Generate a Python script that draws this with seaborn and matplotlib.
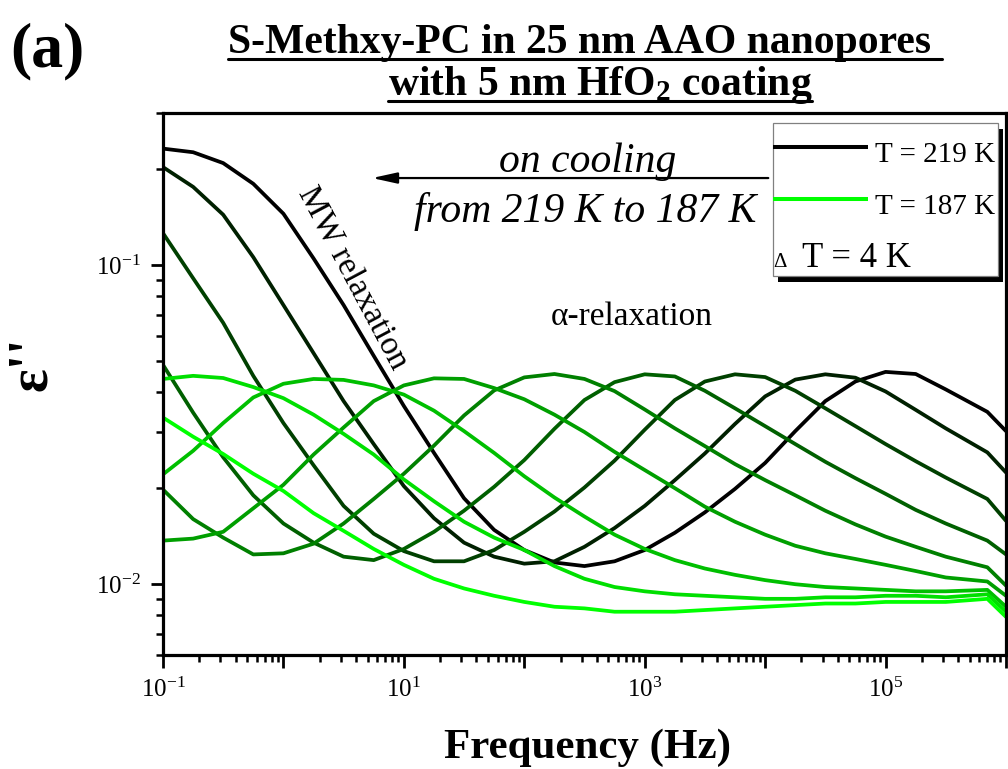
import numpy as np
import pandas as pd
import matplotlib
matplotlib.use("Agg")
import matplotlib.pyplot as plt
import seaborn as sns
from matplotlib.patches import Rectangle
from matplotlib.lines import Line2D
from matplotlib.ticker import LogLocator, FuncFormatter, NullFormatter

# Frequency grid of the dielectric loss spectra (Hz)
freq = [0.1, 0.178, 0.316, 0.562,
        1.0, 1.78, 3.16, 5.62,
        10.0, 17.8, 31.6, 56.2,
        100.0, 178.0, 316.0, 562.0,
        1.0e3, 1.78e3, 3.16e3, 5.62e3,
        1.0e4, 1.78e4, 3.16e4, 5.62e4,
        1.0e5, 1.78e5, 3.16e5, 7.0e5, 1.0e6]

temps = [219, 215, 211, 207, 203, 199, 195, 191, 187]

# Dielectric loss eps'' for each temperature (K)
eps_219 = [0.232, 0.226, 0.209, 0.180, 0.145, 0.105, 0.075, 0.052, 0.0362, 0.0258,
           0.0186, 0.0148, 0.0128, 0.0117, 0.0114, 0.0118, 0.0128, 0.0145, 0.0168, 0.0199,
           0.0240, 0.0302, 0.0375, 0.0432, 0.0463, 0.0456, 0.0408, 0.0347, 0.0302]
eps_215 = [0.203, 0.176, 0.144, 0.106, 0.075, 0.053, 0.0375, 0.0275, 0.0203, 0.0161,
           0.0135, 0.0122, 0.0116, 0.0118, 0.0131, 0.0150, 0.0176, 0.0212, 0.0257, 0.0318,
           0.0388, 0.0438, 0.0455, 0.0444, 0.0402, 0.0352, 0.0308, 0.0259, 0.0224]
eps_211 = [0.126, 0.091, 0.066, 0.045, 0.032, 0.0236, 0.0176, 0.0144, 0.0127, 0.0118,
           0.0118, 0.0128, 0.0146, 0.0169, 0.0201, 0.0244, 0.0305, 0.0378, 0.0432, 0.0455,
           0.0446, 0.0404, 0.0356, 0.0313, 0.0275, 0.0243, 0.0216, 0.0185, 0.0158]
eps_207 = [0.0487, 0.0345, 0.0250, 0.0190, 0.0155, 0.0135, 0.0122, 0.0119, 0.0129, 0.0146,
           0.0170, 0.0202, 0.0245, 0.0307, 0.0378, 0.0430, 0.0455, 0.0448, 0.0404, 0.0356,
           0.0313, 0.0275, 0.0242, 0.0215, 0.0192, 0.0171, 0.0155, 0.0137, 0.0124]
eps_203 = [0.0198, 0.0160, 0.0140, 0.0124, 0.0125, 0.0134, 0.0155, 0.0185, 0.0222, 0.0272,
           0.0338, 0.0405, 0.0445, 0.0456, 0.0440, 0.0403, 0.0353, 0.0308, 0.0271, 0.0238,
           0.0212, 0.0190, 0.0170, 0.0154, 0.0141, 0.0131, 0.0122, 0.0113, 0.0099]
eps_199 = [0.0137, 0.0139, 0.0146, 0.0173, 0.0205, 0.0255, 0.0310, 0.0375, 0.0420, 0.0442,
           0.0440, 0.0412, 0.0380, 0.0340, 0.0300, 0.0260, 0.0228, 0.0200, 0.0175, 0.0157,
           0.0143, 0.0132, 0.0125, 0.0120, 0.0115, 0.0110, 0.0105, 0.0102, 0.0092]
eps_195 = [0.0221, 0.0262, 0.0320, 0.0385, 0.0425, 0.0440, 0.0437, 0.0420, 0.0393, 0.0350,
           0.0302, 0.0258, 0.0218, 0.0187, 0.0163, 0.0143, 0.0129, 0.0119, 0.0112, 0.0107,
           0.0103, 0.0100, 0.0098, 0.0097, 0.0096, 0.0095, 0.0095, 0.0096, 0.0085]
eps_191 = [0.0440, 0.0450, 0.0443, 0.0415, 0.0383, 0.0340, 0.0296, 0.0255, 0.0213, 0.0182,
           0.0157, 0.0140, 0.0128, 0.0114, 0.0104, 0.0098, 0.0095, 0.0093, 0.0092, 0.0091,
           0.0090, 0.0090, 0.0091, 0.0091, 0.0092, 0.0092, 0.0091, 0.0093, 0.0082]
eps_187 = [0.0333, 0.0290, 0.0256, 0.0222, 0.0196, 0.0167, 0.0147, 0.0129, 0.0115, 0.0104,
           0.0097, 0.0092, 0.0088, 0.0085, 0.0084, 0.0082, 0.0082, 0.0082, 0.0083, 0.0084,
           0.0085, 0.0086, 0.0087, 0.0087, 0.0088, 0.0088, 0.0088, 0.0090, 0.0079]

series = [eps_219, eps_215, eps_211, eps_207, eps_203, eps_199, eps_195, eps_191, eps_187]

x_ticks_labeled = [-1, 1, 3, 5]

# black -> bright green gradient, warm to cold
colors = ["#000000", "#002000", "#004000", "#006000", "#008000",
          "#009f00", "#00bf00", "#00df00", "#00ff00"]

labels = [f"T = {t} K" for t in temps]
df = pd.concat(
    [pd.DataFrame({"freq": freq, "eps": vals, "T": lab}) for lab, vals in zip(labels, series)],
    ignore_index=True,
)

sns.set_style("ticks")
plt.rcParams["font.family"] = ["Liberation Serif", "DejaVu Serif"]
plt.rcParams["mathtext.fontset"] = "custom"
plt.rcParams["mathtext.rm"] = "Liberation Serif"
plt.rcParams["mathtext.it"] = "Liberation Serif:italic"
plt.rcParams["mathtext.bf"] = "Liberation Serif:bold"
for key in ("text.color", "axes.labelcolor", "xtick.color", "ytick.color",
            "xtick.labelcolor", "ytick.labelcolor", "axes.edgecolor"):
    plt.rcParams[key] = "black"

W, H = 1008, 769
fig = plt.figure(figsize=(W / 100, H / 100), dpi=100)
ax = fig.add_axes([163 / W, 1 - 655 / H, 843 / W, 542 / H])
ax.set_xscale("log")
ax.set_yscale("log")

sns.lineplot(data=df, x="freq", y="eps", hue="T", hue_order=labels,
             palette=colors, estimator=None, sort=False, lw=2.7,
             legend=False, ax=ax)

ax.set_xlim(0.1, 1e6)
ax.set_ylim(0.006, 0.3)
ax.set_xlabel("")
ax.set_ylabel("")


def xfmt(v, pos):
    e = int(round(np.log10(v)))
    return rf"$\mathregular{{10^{{{e}}}}}$" if e in x_ticks_labeled else ""


def yfmt(v, pos):
    e = int(round(np.log10(v)))
    return rf"$\mathregular{{10^{{{e}}}}}$"


ax.xaxis.set_major_locator(LogLocator(base=10, numticks=20))
ax.xaxis.set_minor_locator(LogLocator(base=10, subs=np.arange(2, 10), numticks=100))
ax.xaxis.set_major_formatter(FuncFormatter(xfmt))
ax.xaxis.set_minor_formatter(NullFormatter())
ax.yaxis.set_major_locator(LogLocator(base=10, numticks=20))
ax.yaxis.set_minor_locator(LogLocator(base=10, subs=np.arange(2, 10), numticks=100))
ax.yaxis.set_major_formatter(FuncFormatter(yfmt))
ax.yaxis.set_minor_formatter(NullFormatter())

ax.tick_params(which="major", direction="out", length=9, width=2.0,
               labelsize=18, pad=7, top=False, right=False,
               color="black", labelcolor="black")
ax.tick_params(which="minor", direction="out", length=5, width=1.8,
               top=False, right=False, color="black")
for sp in ax.spines.values():
    sp.set_linewidth(2.3)
    sp.set_color("black")

# Cooling arrow and its caption
ax.annotate("", xy=(0.248, 0.880), xytext=(0.718, 0.880), xycoords="axes fraction",
            arrowprops=dict(arrowstyle="-|>,head_length=1.5,head_width=0.33",
                            color="black", lw=1.6, mutation_scale=10,
                            shrinkA=0, shrinkB=0))
ax.text(0.504, 0.891, "on cooling", transform=ax.transAxes, fontsize=30,
        style="italic", ha="center", va="baseline", color="black")
ax.text(0.5006, 0.799, "from 219 K to 187 K", transform=ax.transAxes, fontsize=30,
        style="italic", ha="center", va="baseline", color="black")

ax.text(0.5563, 0.6236, "α-relaxation", transform=ax.transAxes, fontsize=24,
        ha="center", va="center", color="black")
ax.text(0.2242, 0.6956, "MW relaxation", transform=ax.transAxes, fontsize=24,
        ha="center", va="center", rotation=-62, rotation_mode="anchor", color="black")

# Legend box with a solid drop shadow
ax.add_patch(Rectangle((0.7295, 0.6888), 0.2673, 0.2817, transform=ax.transAxes,
                       facecolor="black", edgecolor="none", zorder=5, clip_on=False))
ax.add_patch(Rectangle((0.7233, 0.6998), 0.2676, 0.2812, transform=ax.transAxes,
                       facecolor="white", edgecolor="#808080", lw=0.9, zorder=6,
                       clip_on=False))
ax.add_line(Line2D([0.7236, 0.8367], [0.9378, 0.9378], transform=ax.transAxes,
                   color=colors[0], lw=2.9, zorder=7, solid_capstyle="butt"))
ax.add_line(Line2D([0.7236, 0.8367], [0.8408, 0.8408], transform=ax.transAxes,
                   color=colors[-1], lw=2.9, zorder=7, solid_capstyle="butt"))
ax.text(0.8446, 0.9090, labels[0], transform=ax.transAxes, fontsize=21,
        ha="left", va="baseline", zorder=8, color="black")
ax.text(0.8446, 0.8131, labels[-1], transform=ax.transAxes, fontsize=21,
        ha="left", va="baseline", zorder=8, color="black")
ax.text(0.7236, 0.7164, "Δ", transform=ax.transAxes, fontsize=15,
        ha="left", va="baseline", zorder=8, color="black")
ax.text(0.7577, 0.7164, "T = 4 K", transform=ax.transAxes, fontsize=25,
        ha="left", va="baseline", zorder=8, color="black")

# Axis titles
fig.text(588 / W, 1 - 758 / H, "Frequency (Hz)", fontsize=31, fontweight="bold",
         ha="center", va="baseline", color="black")
fig.text(32 / W, 1 - 364 / H, "ε''", fontsize=40, fontweight="bold",
         ha="center", va="center", rotation=90, color="black")

# Panel tag and underlined two-line title
fig.text(47 / W, 1 - 66 / H, "(a)", fontsize=46, fontweight="bold",
         ha="center", va="baseline", color="black")
t1 = fig.text(585 / W, 1 - 53 / H, "S-Methxy-PC in 25 nm AAO nanopores ",
              fontsize=30, fontweight="bold", ha="center", va="baseline", color="black")
t2 = fig.text(600 / W, 1 - 95 / H, r"with 5 nm HfO$_\mathbf{2}$ coating",
              fontsize=30, fontweight="bold", ha="center", va="baseline", color="black")

fig.canvas.draw()
renderer = fig.canvas.get_renderer()
for t, base in ((t1, 53), (t2, 95)):
    bb = t.get_window_extent(renderer)
    yline = 1 - (base + 6) / H
    fig.add_artist(Line2D([bb.x0 / W, bb.x1 / W], [yline, yline],
                          transform=fig.transFigure, color="black", lw=2.2))

fig.savefig("out.png", dpi=100)
